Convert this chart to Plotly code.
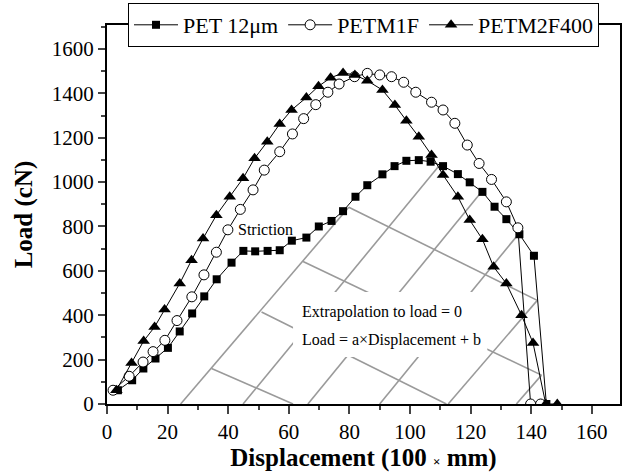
import plotly.graph_objects as go

# ---- data ----
pet_x = [3.6, 8.3, 12.0, 16.0, 20.1, 24.0, 28.1, 32.1, 36.2, 41.1, 45.0, 48.9, 53.0, 57.0, 61.0,
         65.8, 69.9, 74.1, 77.9, 82.0, 85.9, 90.9, 94.9, 98.8, 102.9, 106.8, 110.9, 115.8, 119.7,
         123.9, 127.9, 131.8, 136.1, 140.9, 145.0]
pet_y = [62, 107, 160, 205, 253, 327, 408, 485, 562, 637, 690, 688, 690, 693, 736,
         750, 800, 825, 869, 934, 986, 1035, 1072, 1096, 1099, 1092, 1072, 1036, 999,
         956, 889, 833, 765, 668, 0]

m1f_x = [2.0, 7.3, 11.9, 15.2, 19.1, 23.1, 28.0, 32.0, 36.1, 39.9, 44.0, 48.2, 51.9, 57.0, 61.2,
         64.9, 68.9, 72.9, 76.6, 81.7, 85.9, 90.0, 93.9, 97.9, 101.9, 107.1, 110.9, 114.8, 118.9,
         122.8, 126.9, 131.8, 135.6, 139.8, 143.1]
m1f_y = [62, 125, 189, 236, 287, 376, 483, 582, 684, 785, 877, 965, 1054, 1137, 1217,
         1286, 1349, 1405, 1442, 1475, 1490, 1483, 1475, 1450, 1405, 1360, 1325, 1265, 1167,
         1084, 1012, 911, 794, 0, 0]

m2f_x = [3.1, 8.1, 12.1, 15.7, 19.0, 24.0, 27.9, 31.7, 36.1, 40.5, 44.9, 48.7, 52.9, 57.0, 60.9,
         65.8, 69.8, 73.8, 77.9, 81.8, 85.9, 90.9, 95.0, 98.8, 102.9, 107.1, 110.9, 115.8, 119.7,
         123.9, 127.6, 131.8, 136.8, 140.6, 144.8, 148.6]
m2f_y = [62, 185, 284, 347, 426, 543, 648, 746, 851, 934, 1017, 1107, 1182, 1262, 1325,
         1381, 1432, 1470, 1492, 1483, 1457, 1415, 1347, 1277, 1204, 1122, 1032, 934, 829,
         742, 618, 543, 400, 275, 0, 0]

# extrapolation (gray) segments: start -> end, in data units
ext_x0 = [24.3, 44.9, 66.3, 90.0, 112.6, 135.1, 34.5, 51.0, 64.7, 79.8]
ext_y0 = [0, 0, 0, 0, 0, 0, 160, 415, 642, 887]
ext_x1 = [79.8, 109.8, 124.1, 135.5, 142.0, 143.4, 61.4, 112.0, 143.4, 142.0]
ext_y1 = [887, 1077, 964, 761, 467, 130, 0, 0, 130, 467]

series_names = ["PET 12\u03bcm", "PETM1F", "PETM2F400"]
x_ticks = [0, 20, 40, 60, 80, 100, 120, 140, 160]
y_ticks = [0, 200, 400, 600, 800, 1000, 1200, 1400, 1600]

FONT = "Liberation Serif"

fig = go.Figure()

gx, gy = [], []
for a, b, c, d in zip(ext_x0, ext_y0, ext_x1, ext_y1):
    gx += [a, c, None]
    gy += [b, d, None]
fig.add_trace(go.Scatter(x=gx, y=gy, mode="lines", line=dict(color="#9a9a9a", width=1.6),
                         showlegend=False, hoverinfo="skip"))

fig.add_trace(go.Scatter(x=pet_x, y=pet_y, name=series_names[0], mode="lines+markers",
                         line=dict(color="black", width=1),
                         marker=dict(symbol="square", size=8, color="black")))
fig.add_trace(go.Scatter(x=m1f_x, y=m1f_y, name=series_names[1], mode="lines+markers",
                         line=dict(color="black", width=1),
                         marker=dict(symbol="circle", size=10, color="white",
                                     line=dict(color="black", width=1))))
fig.add_trace(go.Scatter(x=m2f_x, y=m2f_y, name=series_names[2], mode="lines+markers",
                         line=dict(color="black", width=1),
                         marker=dict(symbol="triangle-up", size=11, color="black")))

# white box behind the equation text
fig.add_shape(type="rect", xref="x", yref="y", x0=61.4, x1=125.5, y0=212, y1=505,
              fillcolor="white", line=dict(width=0), layer="above")

fig.add_annotation(x=63.6, y=414, xref="x", yref="y", text="Extrapolation to load = 0",
                   showarrow=False, xanchor="left", yanchor="middle",
                   font=dict(family=FONT, size=16, color="black"))
fig.add_annotation(x=63.6, y=287, xref="x", yref="y", text="Load = a\u00d7Displacement + b",
                   showarrow=False, xanchor="left", yanchor="middle",
                   font=dict(family=FONT, size=16, color="black"))
fig.add_annotation(x=42.5, y=788, xref="x", yref="y", text="Striction",
                   showarrow=False, xanchor="left", yanchor="middle",
                   font=dict(family=FONT, size=16, color="black"))

fig.update_layout(
    width=622, height=476,
    margin=dict(l=107, r=2, t=25, b=72, autoexpand=False),
    paper_bgcolor="white", plot_bgcolor="white",
    font=dict(family=FONT, size=21, color="black"),
    legend=dict(orientation="h", x=0.5, xanchor="center", y=1.0, yanchor="middle",
                bgcolor="white", bordercolor="black", borderwidth=1,
                font=dict(family=FONT, size=22, color="black"), itemwidth=44,
                tracegroupgap=0),
    xaxis=dict(range=[0, 169.3], tickvals=x_ticks, ticks="outside", ticklen=8, tickwidth=1.5,
               tickfont=dict(family=FONT, size=21, color="black"),
               minor=dict(dtick=10, ticks="outside", ticklen=4, tickwidth=1.5),
               showline=True, linecolor="black", linewidth=2, mirror=True,
               showgrid=False, zeroline=False,
               title=dict(text="<b>Displacement (100 <span style='font-size:13px'>\u00d7</span> mm)</b>",
                          font=dict(family=FONT, size=25), standoff=0)),
    yaxis=dict(range=[0, 1708], tickvals=y_ticks, ticks="outside", ticklen=7, tickwidth=1.5,
               tickfont=dict(family=FONT, size=21, color="black"),
               minor=dict(dtick=100, ticks="outside", ticklen=4, tickwidth=1.5),
               showline=True, linecolor="black", linewidth=2, mirror=True,
               showgrid=False, zeroline=False,
               title=dict(text="<b>Load (cN)</b>", font=dict(family=FONT, size=25), standoff=12)),
)

fig.write_html("out.html", config={"displayModeBar": False},
               post_script="document.body.style.margin='0';")
